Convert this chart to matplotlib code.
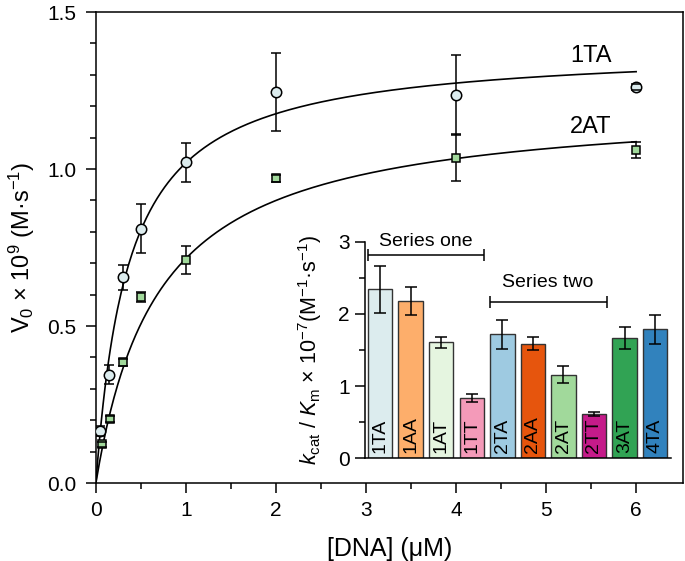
import numpy as np
import matplotlib
matplotlib.use('Agg')
from matplotlib import pyplot as plt

plt.rcParams['font.family'] = ['Liberation Sans', 'DejaVu Sans']
plt.rcParams['mathtext.fontset'] = 'custom'
plt.rcParams['mathtext.rm'] = 'Liberation Sans'
plt.rcParams['mathtext.it'] = 'Liberation Sans:italic'

# main plot data: [DNA] (uM) vs V0
dna_1ta = [0.05, 0.15, 0.3, 0.5, 1.0, 2.0, 4.0, 6.0]
v_1ta = [0.165, 0.345, 0.655, 0.81, 1.022, 1.245, 1.236, 1.262]
err_1ta = [0.015, 0.03, 0.04, 0.078, 0.062, 0.123, 0.127, 0.01]

dna_2at = [0.07, 0.155, 0.3, 0.5, 1.0, 2.0, 4.0, 6.0]
v_2at = [0.124, 0.205, 0.384, 0.593, 0.71, 0.97, 1.036, 1.06]
err_2at = [0.008, 0.01, 0.01, 0.015, 0.044, 0.01, 0.075, 0.025]

# Michaelis-Menten fit params (Vmax, Km)
fit_1ta = (1.389, 0.362)
fit_2at = (1.213, 0.696)

# inset bar data
bar_names = ['1TA', '1AA', '1AT', '1TT', '2TA', '2AA', '2AT', '2TT', '3AT', '4TA']
bar_vals = [2.34, 2.18, 1.606, 0.84, 1.72, 1.587, 1.158, 0.614, 1.67, 1.786]
bar_errs = [0.32, 0.2, 0.074, 0.053, 0.2, 0.09, 0.118, 0.025, 0.15, 0.2]
bar_colors = ['#dcecee', '#fdae6b', '#e5f5e0', '#f49ab9', '#9ecae1',
              '#e6550d', '#a1d99b', '#c51b8a', '#31a354', '#3182bd']
groups = [('Series one', 0, 3, 2.82, 3.01), ('Series two', 4, 7, 2.17, 2.43)]

fig = plt.figure(figsize=(6.85, 5.61), dpi=100)
ax = fig.add_axes([0.140, 0.139, 0.857, 0.8396])

xs = np.linspace(0, 6, 300)
for (vmax, km) in (fit_1ta, fit_2at):
    ax.plot(xs, vmax * xs / (km + xs), color='k', lw=1.2, zorder=2)

eb1 = ax.errorbar(dna_1ta, v_1ta, yerr=err_1ta, fmt='o', ms=7.5, mfc='#dcecee', mec='k',
                  mew=1.1, ecolor='k', elinewidth=1.1, capsize=3.5, capthick=1.1, zorder=3)
eb2 = ax.errorbar(dna_2at, v_2at, yerr=err_2at, fmt='s', ms=5.5, mfc='#a1d99b', mec='k',
                  mew=1.1, ecolor='k', elinewidth=1.1, capsize=3.5, capthick=1.1, zorder=3)
# caps drawn over the markers, like the original
for eb in (eb1, eb2):
    for cap in eb[1]:
        cap.set_zorder(5)

ax.text(5.5, 1.36, '1TA', fontsize=17, ha='center', va='center')
ax.text(5.5, 1.135, '2AT', fontsize=17, ha='center', va='center')

ax.set_xlim(0, 6.52)
ax.set_ylim(0, 1.5)
ax.set_xticks(range(7))
ax.set_xticks(np.arange(0.5, 6.5, 1.0), minor=True)
ax.set_yticks([0, 0.5, 1.0, 1.5])
ax.set_yticklabels(['0.0', '0.5', '1.0', '1.5'])
ax.set_yticks(np.arange(0, 1.5, 0.1), minor=True)
ax.tick_params(which='major', direction='out', length=7, width=1.1, labelsize=15, pad=6)
ax.tick_params(axis='y', which='major', pad=7)
ax.tick_params(which='minor', direction='out', length=4, width=1.1)
for s in ax.spines.values():
    s.set_linewidth(1.1)
ax.set_xlabel('[DNA] (μM)', fontsize=18, labelpad=12)
ax.set_ylabel(r'V$_0$ × 10$^9$ (M·s$^{-1}$)', fontsize=17, labelpad=7)

# inset
ax2 = fig.add_axes([0.533, 0.183, 0.447, 0.386])
pos = np.arange(len(bar_names))
ax2.bar(pos, bar_vals, width=0.8, color=bar_colors, edgecolor='#333333', linewidth=1.0, zorder=2)
ax2.errorbar(pos, bar_vals, yerr=bar_errs, fmt='none', ecolor='k', elinewidth=1.1,
             capsize=4, capthick=1.1, zorder=3)
for p, name in zip(pos, bar_names):
    ax2.text(p, 0.08, name, rotation=90, ha='center', va='bottom', fontsize=14, zorder=4)
for label, i0, i1, yb, yt in groups:
    c = (i0 + i1) / 2
    half = (i1 - i0) / 2 + 0.41
    ax2.errorbar(c, yb, xerr=half, fmt='none', ecolor='k', elinewidth=1.1,
                 capsize=4, capthick=1.1, clip_on=False)
    ax2.text(c, yt, label, fontsize=14, ha='center', va='center')

ax2.set_xlim(-0.49, 9.53)
ax2.set_ylim(0, 3)
ax2.set_xticks([])
ax2.set_yticks([0, 1, 2, 3])
ax2.set_yticks([0.5, 1.5, 2.5], minor=True)
ax2.tick_params(which='major', direction='out', length=7, width=1.1, labelsize=15, pad=4)
ax2.tick_params(which='minor', direction='out', length=4, width=1.1)
ax2.spines['top'].set_visible(False)
ax2.spines['right'].set_visible(False)
for s in ('left', 'bottom'):
    ax2.spines[s].set_linewidth(1.1)
ax2.patch.set_alpha(0)
ax2.set_ylabel(r'$k_\mathrm{cat}$ / $K_\mathrm{m}$ × 10$^{-7}$(M$^{-1}$·s$^{-1}$)',
               fontsize=15.5, labelpad=10)

plt.savefig('out.png', dpi=100)
